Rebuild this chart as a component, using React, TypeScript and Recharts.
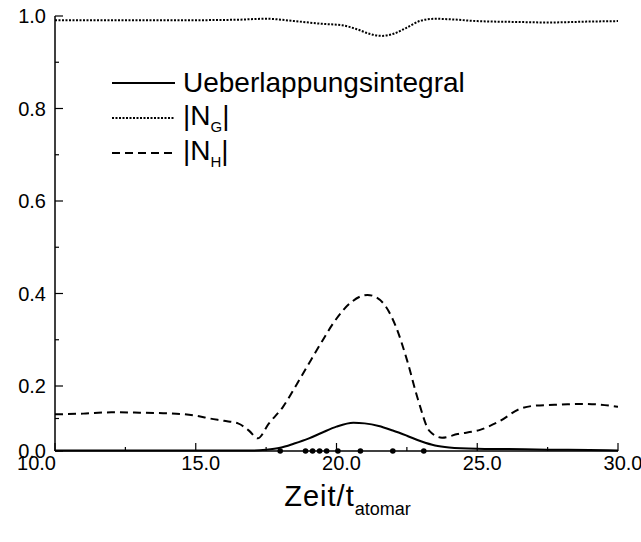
import { ComposedChart, Line, Scatter, XAxis, YAxis } from 'recharts';

const FONT = '"Liberation Sans", Arial, Helvetica, sans-serif';

// Ueberlappungsintegral
const ueberlappungZeit = [10, 12, 14, 16, 17, 17.5, 18, 18.5, 19, 19.5, 20, 20.6, 21, 21.5, 22, 22.5, 23, 23.5, 24, 25, 26, 27.5, 29, 30];
const ueberlappungWert = [0.0015, 0.0015, 0.0015, 0.0015, 0.0015, 0.004, 0.01, 0.023, 0.038, 0.057, 0.075, 0.087, 0.085, 0.077, 0.063, 0.047, 0.03, 0.017, 0.011, 0.007, 0.006, 0.004, 0.003, 0.0015];

// |N_G|
const ngZeit = [10, 12.5, 15, 16.5, 17.5, 18.5, 19.5, 20.2, 20.7, 21.2, 21.6, 22, 22.5, 23, 23.5, 24, 25, 26.5, 27.5, 29, 30];
const ngWert = [0.991, 0.991, 0.991, 0.992, 0.994, 0.989, 0.983, 0.98, 0.972, 0.961, 0.957, 0.961, 0.975, 0.99, 0.994, 0.993, 0.989, 0.987, 0.986, 0.988, 0.989];

// |N_H|
const nhZeit = [10, 11, 12, 13, 14, 15, 15.5, 16, 16.5, 16.9, 17.2, 17.6, 18.1, 18.6, 19.1, 19.5, 19.9, 20.5, 21.1, 21.4, 21.7, 22.1, 22.5, 22.9, 23.3, 23.75, 24.3, 25.1, 25.8, 26.5, 27, 28, 28.7, 29.3, 30];
const nhWert = [0.113, 0.115, 0.119, 0.118, 0.116, 0.109, 0.1, 0.093, 0.085, 0.062, 0.039, 0.085, 0.136, 0.205, 0.257, 0.298, 0.337, 0.38, 0.397, 0.392, 0.376, 0.33, 0.257, 0.157, 0.062, 0.041, 0.052, 0.065, 0.092, 0.129, 0.139, 0.143, 0.145, 0.143, 0.136];

// markers sitting on the time axis
const punkteZeit = [18.0, 18.9, 19.15, 19.4, 19.65, 20.05, 20.85, 22.0, 23.1];

const xTicks = [10, 12.5, 15, 17.5, 20, 22.5, 25, 27.5, 30];
const yTicks = [0, 0.1, 0.2, 0.3, 0.4, 0.5, 0.6, 0.7, 0.8, 0.9, 1.0];

const toPoints = (ts: number[], vs: number[]) => ts.map((t, i) => ({ t, v: vs[i] }));

const ueberlappung = toPoints(ueberlappungZeit, ueberlappungWert);
const ng = toPoints(ngZeit, ngWert);
const nh = toPoints(nhZeit, nhWert);
const punkte = punkteZeit.map((t) => ({ t, v: 0 }));

// value axis: 0..0.2 gets a compressed strip at the bottom, 0.2..1 is linear above it
const KNEE = 0.2;
const KNEE_SHARE = 65 / 435;

function makeYScale(dom: number[] = [0, 1], rng: number[] = [0, 1]): any {
  let d = dom.slice();
  let r = rng.slice();
  const frac = (v: number) =>
    v <= KNEE
      ? ((v - d[0]) / (KNEE - d[0])) * KNEE_SHARE
      : KNEE_SHARE + ((v - KNEE) / (d[1] - KNEE)) * (1 - KNEE_SHARE);
  const scale: any = (v: number) => r[0] + frac(v) * (r[1] - r[0]);
  scale.domain = (x?: number[]) => {
    if (x === undefined) return d;
    d = x.slice();
    return scale;
  };
  scale.range = (x?: number[]) => {
    if (x === undefined) return r;
    r = x.slice();
    return scale;
  };
  scale.invert = (px: number) => {
    const f = (px - r[0]) / (r[1] - r[0]);
    return f <= KNEE_SHARE
      ? d[0] + (f / KNEE_SHARE) * (KNEE - d[0])
      : KNEE + ((f - KNEE_SHARE) / (1 - KNEE_SHARE)) * (d[1] - KNEE);
  };
  scale.ticks = () => yTicks;
  scale.copy = () => makeYScale(d, r);
  return scale;
}

const isMajorX = (v: number) => v % 5 === 0;
const isMajorY = (v: number) => Math.round(v * 10) % 2 === 0;

function BottomTick({ x, y, payload }: any) {
  const major = isMajorX(payload.value);
  const first = payload.value === 10;
  return (
    <g>
      <line x1={x} x2={x} y1={y} y2={y - (major ? 8 : 4)} stroke="#000" strokeWidth={1.2} />
      {major && (
        <text
          x={first ? x + 1 : x + 5}
          y={y + 19}
          textAnchor={first ? 'end' : 'middle'}
          fontSize={20}
          fontFamily={FONT}
          fill="#000"
        >
          {payload.value.toFixed(1)}
        </text>
      )}
    </g>
  );
}

function TopTick({ x, y, payload }: any) {
  const major = isMajorX(payload.value);
  return <line x1={x} x2={x} y1={y} y2={y + (major ? 8 : 4)} stroke="#000" strokeWidth={1.2} />;
}

function LeftTick({ x, y, payload }: any) {
  const major = isMajorY(payload.value);
  return (
    <g>
      <line x1={x} x2={x + (major ? 8 : 4)} y1={y} y2={y} stroke="#000" strokeWidth={1.2} />
      {major && (
        <text x={x - 9} y={y + 7} textAnchor="end" fontSize={20} fontFamily={FONT} fill="#000">
          {payload.value.toFixed(1)}
        </text>
      )}
    </g>
  );
}

function RightTick({ x, y, payload }: any) {
  const major = isMajorY(payload.value);
  return <line x1={x} x2={x - (major ? 8 : 4)} y1={y} y2={y} stroke="#000" strokeWidth={1.2} />;
}

function XTitle({ viewBox }: any) {
  const cx = viewBox.x + viewBox.width / 2 + 11;
  return (
    <text x={cx} y={viewBox.y + 55} textAnchor="middle" fontFamily={FONT} fill="#000">
      <tspan fontSize={29} letterSpacing={1}>Zeit/t</tspan>
      <tspan fontSize={18} dy={9}>atomar</tspan>
    </text>
  );
}

function Probe({ dash }: { dash?: string }) {
  return (
    <svg width={63} height={10} style={{ display: 'block' }}>
      <line x1={0} x2={63} y1={5} y2={5} stroke="#000" strokeWidth={2} strokeDasharray={dash} />
    </svg>
  );
}

const legendRows = [
  { key: 'u', dash: undefined, label: <>Ueberlappungsintegral</> },
  { key: 'g', dash: '2 1.5', label: <>|N<sub style={{ fontSize: 15 }}>G</sub>|</> },
  { key: 'h', dash: '8 5', label: <>|N<sub style={{ fontSize: 15 }}>H</sub>|</> },
];

export default function App() {
  return (
    <div style={{ position: 'absolute', left: 0, top: 0, width: 641, height: 542, background: '#fff' }}>
      <ComposedChart width={641} height={542} margin={{ top: 16, right: 23, bottom: 0, left: 0 }}>
        <XAxis
          dataKey="t"
          type="number"
          domain={[10, 30]}
          ticks={xTicks}
          height={91}
          tickSize={0}
          tickMargin={0}
          tickLine={false}
          tick={<BottomTick />}
          axisLine={{ stroke: '#000', strokeWidth: 1.5 }}
          label={{ content: (p: any) => <XTitle {...p} /> }}
        />
        <XAxis
          xAxisId="top"
          orientation="top"
          type="number"
          domain={[10, 30]}
          ticks={xTicks}
          height={0}
          tickSize={0}
          tickMargin={0}
          tickLine={false}
          tick={<TopTick />}
          axisLine={{ stroke: '#000', strokeWidth: 1.5 }}
        />
        <YAxis
          type="number"
          domain={[0, 1]}
          scale={makeYScale()}
          ticks={yTicks}
          width={55}
          tickSize={0}
          tickMargin={0}
          tickLine={false}
          tick={<LeftTick />}
          axisLine={{ stroke: '#000', strokeWidth: 1.5 }}
        />
        <YAxis
          yAxisId="right"
          orientation="right"
          type="number"
          domain={[0, 1]}
          scale={makeYScale()}
          ticks={yTicks}
          width={0}
          tickSize={0}
          tickMargin={0}
          tickLine={false}
          tick={<RightTick />}
          axisLine={{ stroke: '#000', strokeWidth: 1.5 }}
        />
        <Line data={nh} dataKey="v" type="monotone" stroke="#000" strokeWidth={2} strokeDasharray="8 5" dot={false} isAnimationActive={false} />
        <Line data={ng} dataKey="v" type="monotone" stroke="#000" strokeWidth={2} strokeDasharray="2 1.5" dot={false} isAnimationActive={false} />
        <Line data={ueberlappung} dataKey="v" type="monotone" stroke="#000" strokeWidth={2} dot={false} isAnimationActive={false} />
        <Scatter data={punkte} dataKey="v" fill="#000" shape={(p: any) => <circle cx={p.cx} cy={p.cy} r={2.8} fill="#000" />} isAnimationActive={false} />
      </ComposedChart>
      <div style={{ position: 'absolute', left: 112, top: 65, fontFamily: FONT, fontSize: 28, color: '#000' }}>
        {legendRows.map((r) => (
          <div key={r.key} style={{ display: 'flex', alignItems: 'center', height: 35 }}>
            <Probe dash={r.dash} />
            <span style={{ marginLeft: 8, lineHeight: 1 }}>{r.label}</span>
          </div>
        ))}
      </div>
    </div>
  );
}
